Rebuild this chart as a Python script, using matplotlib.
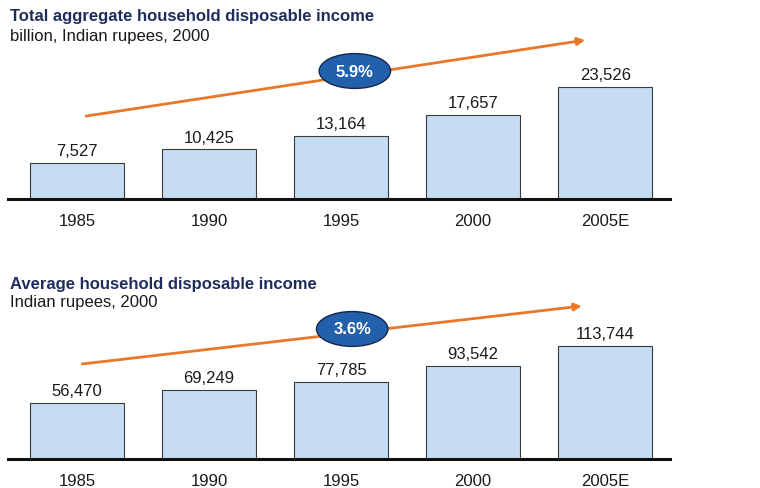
import matplotlib.pyplot as plt
from matplotlib.patches import Ellipse

plt.rcParams['font.family'] = ['Liberation Sans', 'DejaVu Sans']

years = ['1985', '1990', '1995', '2000', '2005E']
total_income = [7527, 10425, 13164, 17657, 23526]      # billion INR, 2000 prices
avg_income = [56470, 69249, 77785, 93542, 113744]      # INR, 2000 prices
total_cagr = '5.9%'
avg_cagr = '3.6%'

navy = '#1f2d5c'
bar_fill = '#c6dcf2'
orange = '#e8792a'
oval = '#2360ab'

fig = plt.figure(figsize=(7.6, 4.89), dpi=100)


def panel(bottom, values, ymax, cagr, arrow, badge):
    ax = fig.add_axes([0.0105, bottom, 0.871, 0.3476])
    x = range(len(values))
    bars = ax.bar(x, values, width=0.712, color=bar_fill, edgecolor='#3a3a3a', linewidth=0.8)
    for b, v in zip(bars, values):
        ax.annotate(f'{v:,}', (b.get_x() + b.get_width() / 2, v), xytext=(0, 3.5),
                    textcoords='offset points', ha='center', va='bottom',
                    fontsize=12, color='#1a1a1a')
    ax.set_xlim(-0.523, 4.49)
    ax.set_ylim(0, ymax)
    ax.set_xticks(list(x))
    ax.set_xticklabels(years, fontsize=12, color='#1a1a1a')
    ax.tick_params(axis='x', length=0, pad=10)
    ax.set_yticks([])
    for s in ['top', 'left', 'right']:
        ax.spines[s].set_visible(False)
    ax.spines['bottom'].set_linewidth(2.2)
    ax.spines['bottom'].set_color('#111111')
    ax.set_facecolor('none')

    # growth arrow with CAGR badge
    ax.annotate('', xy=arrow[1], xytext=arrow[0], xycoords='axes fraction',
                arrowprops=dict(arrowstyle='-|>', color=orange, lw=2,
                                mutation_scale=11, shrinkA=0, shrinkB=0))
    ax.add_patch(Ellipse(badge, 0.108, 0.205, transform=ax.transAxes,
                         facecolor=oval, edgecolor='#14264d', lw=1, zorder=5))
    ax.text(badge[0], badge[1], cagr, transform=ax.transAxes, ha='center', va='center',
            color='white', fontsize=12, fontweight='bold', zorder=6)
    return ax


panel(0.591, total_income, 35700, total_cagr,
      ((0.118, 0.488), (0.872, 0.935)), (0.524, 0.753))
panel(0.0593, avg_income, 171100, avg_cagr,
      ((0.112, 0.559), (0.867, 0.90)), (0.520, 0.765))

fig.text(0.013, 1 - 17 / 489, 'Total aggregate household disposable income',
         fontsize=12, fontweight='bold', color=navy, va='center')
fig.text(0.013, 1 - 37 / 489, 'billion, Indian rupees, 2000',
         fontsize=12, color='#1a1a1a', va='center')
fig.text(0.013, 1 - 284 / 489, 'Average household disposable income',
         fontsize=12, fontweight='bold', color=navy, va='center')
fig.text(0.013, 1 - 303 / 489, 'Indian rupees, 2000',
         fontsize=12, color='#1a1a1a', va='center')

fig.savefig('out.png', dpi=100, facecolor='white')
